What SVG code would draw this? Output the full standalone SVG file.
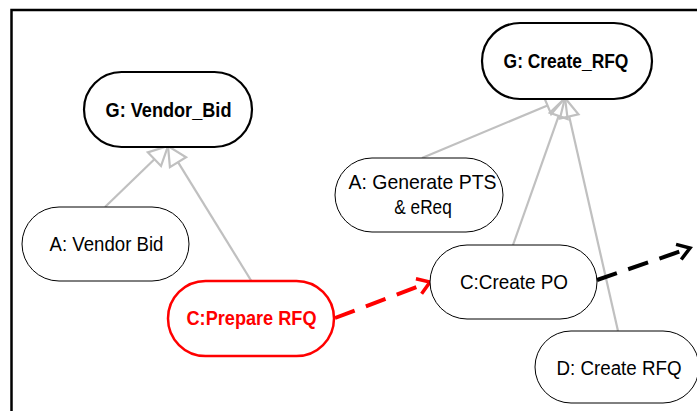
<svg xmlns="http://www.w3.org/2000/svg" width="697" height="411" viewBox="0 0 697 411">
<defs>
<style>
.goal{fill:#fff;stroke:#000;stroke-width:2.2}
.node{fill:#fff;stroke:#000;stroke-width:1}
.red{fill:#fff;stroke:#f00;stroke-width:2.5}
.gen{fill:none;stroke:#c0c0c0;stroke-width:2.2}
.dash{fill:none;stroke-width:4;stroke-dasharray:21 12}
</style>
<marker id="tri" markerUnits="userSpaceOnUse" markerWidth="40" markerHeight="40" refX="0" refY="0" orient="auto" overflow="visible">
<path d="M0,-9.5 L19,0 L0,9.5 Z" fill="none" stroke="#c0c0c0" stroke-width="2.2" stroke-linejoin="miter"/>
</marker>
<marker id="openR" markerUnits="userSpaceOnUse" markerWidth="40" markerHeight="40" refX="0" refY="0" orient="auto" overflow="visible">
<path d="M-12,-8 L0,0 L-12,8" fill="none" stroke="#f00" stroke-width="3.5"/>
</marker>
<marker id="openK" markerUnits="userSpaceOnUse" markerWidth="40" markerHeight="40" refX="0" refY="0" orient="auto" overflow="visible">
<path d="M-12,-8 L0,0 L-12,8" fill="none" stroke="#000" stroke-width="3.5"/>
</marker>
</defs>
<rect width="697" height="411" fill="#fff"/>
<path d="M11.5,411 V10 H697" fill="none" stroke="#000" stroke-width="2.5"/>

<g id="connectors">
<line class="gen" x1="105" y1="207" x2="154.4" y2="159.2" marker-end="url(#tri)"/>
<line class="gen" x1="252" y1="282" x2="178" y2="162.2" marker-end="url(#tri)"/>
<line class="gen" x1="422" y1="158" x2="547.5" y2="105.4" marker-end="url(#tri)"/>
<line class="gen" x1="513" y1="245" x2="558.7" y2="115.9" marker-end="url(#tri)"/>
<line class="gen" x1="618" y1="331" x2="569.2" y2="116.5" marker-end="url(#tri)"/>
<line class="dash" stroke="#f00" x1="335" y1="318" x2="430" y2="282" marker-end="url(#openR)"/>
<line class="dash" stroke="#000" x1="597" y1="280" x2="690" y2="248" marker-end="url(#openK)"/>
</g>

<g font-family="'Liberation Sans', Arial, sans-serif" font-size="21" text-anchor="middle" fill="#000">
<g id="g_vendor_bid">
<rect class="goal" x="84" y="72" width="168" height="75" rx="37.5"/>
<text font-weight="bold" transform="translate(168.5,117) scale(0.864,1)">G: Vendor_Bid</text>
</g>
<g id="g_create_rfq">
<rect class="goal" x="482" y="23" width="170" height="76" rx="38"/>
<text font-weight="bold" transform="translate(566,68) scale(0.83,1)">G: Create_RFQ</text>
</g>
<g id="a_vendor_bid">
<rect class="node" x="22" y="207" width="167" height="74" rx="37"/>
<text transform="translate(106.5,251) scale(0.887,1)">A: Vendor Bid</text>
</g>
<g id="c_prepare_rfq">
<rect class="red" x="168" y="281" width="166" height="75" rx="37.5"/>
<text font-weight="bold" fill="#f00" transform="translate(251.5,325) scale(0.864,1)">C:Prepare RFQ</text>
</g>
<g id="a_generate_pts">
<rect class="node" x="335" y="158" width="168" height="74" rx="37"/>
<text transform="translate(422.5,189) scale(0.926,1)">A: Generate PTS</text>
<text transform="translate(423,214) scale(0.82,1)">&amp; eReq</text>
</g>
<g id="c_create_po">
<rect class="node" x="430" y="245" width="167" height="74" rx="37"/>
<text transform="translate(514,289) scale(0.9,1)">C:Create PO</text>
</g>
<g id="d_create_rfq">
<rect class="node" x="535" y="331" width="164" height="72" rx="36"/>
<text transform="translate(619,375) scale(0.893,1)">D: Create RFQ</text>
</g>
</g>
</svg>
